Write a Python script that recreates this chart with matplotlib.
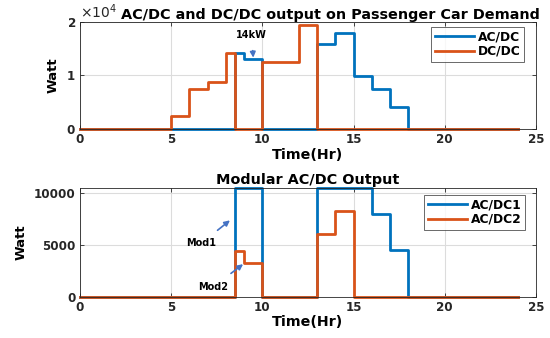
import matplotlib
matplotlib.use("Agg")
import matplotlib.pyplot as plt
import numpy as np
from matplotlib.ticker import ScalarFormatter

plt.rcParams['font.family'] = ['DejaVu Sans']
plt.rcParams['font.weight'] = 'bold'
plt.rcParams['mathtext.default'] = 'regular'

BLUE = '#0072BD'
ORANGE = '#D95319'

# Top chart: breakpoints (hours) and step values (W)
t_top = [0, 5, 6, 7, 8, 8.5, 9, 10, 11, 12, 13, 14, 15, 16, 17, 18, 24]
acdc = [0, 0, 0, 0, 0, 14200, 13100, 0, 0, 0, 15900, 17900, 9900, 7500, 4100, 0, 0]
dcdc = [0, 2500, 7500, 8800, 14200, 0, 0, 12500, 12400, 19300, 0, 0, 0, 0, 0, 0, 0]

# Bottom chart
t_bot = [0, 8.5, 9, 10, 13, 14, 15, 16, 17, 18, 24]
acdc1 = [0, 10500, 10500, 0, 10500, 10500, 10500, 7950, 4490, 0, 0]
acdc2 = [0, 4420, 3270, 0, 6100, 8270, 0, 0, 0, 0, 0]

xticks = [0, 5, 10, 15, 20, 25]

fig = plt.figure(figsize=(5.5, 3.38), dpi=100)
ax1 = fig.add_axes([0.1455, 0.6183, 0.829, 0.3175])
ax2 = fig.add_axes([0.1455, 0.1222, 0.829, 0.3216])

def style(ax):
    ax.grid(True, color='#dcdcdc', linewidth=0.8)
    ax.set_axisbelow(True)
    ax.tick_params(direction='in', length=3, labelsize=8.6, width=0.6, colors='#262626', pad=3,
                   top=True, right=True)
    for s in ax.spines.values():
        s.set_color('#262626')
        s.set_linewidth(0.6)
    ax.set_xlim(0, 25)
    ax.set_xticks(xticks)
    for lab in ax.get_xticklabels() + ax.get_yticklabels():
        lab.set_fontweight('bold')
    ax.set_xlabel('Time(Hr)', fontsize=10.3, fontweight='bold', labelpad=1)
    ax.set_ylabel('Watt', fontsize=9.5, fontweight='bold', labelpad=5)

def legend(ax, anchor):
    leg = ax.legend(loc='upper right', bbox_to_anchor=anchor, fontsize=8.8, frameon=True,
                    fancybox=False, edgecolor='#262626', handlelength=3.2, borderaxespad=0,
                    labelspacing=0.1, handletextpad=0.3, borderpad=0.3)
    leg.get_frame().set_linewidth(0.6)
    for tx in leg.get_texts():
        tx.set_fontweight('bold')

ax1.plot(t_top, acdc, drawstyle='steps-post', color=BLUE, lw=2, label='AC/DC', clip_on=False)
ax1.plot(t_top, dcdc, drawstyle='steps-post', color=ORANGE, lw=2, label='DC/DC', clip_on=False)
ax1.set_ylim(0, 20000)
ax1.set_yticks([0, 10000, 20000])
fmt = ScalarFormatter(useMathText=True)
fmt.set_powerlimits((4, 4))
ax1.yaxis.set_major_formatter(fmt)
style(ax1)
ax1.yaxis.get_offset_text().set_fontsize(10)
ax1.yaxis.get_offset_text().set_fontweight('normal')
ax1.text(0.55, 1.0, 'AC/DC and DC/DC output on Passenger Car Demand', transform=ax1.transAxes,
         ha='center', va='bottom', fontsize=10.4, fontweight='bold')
legend(ax1, (0.974, 0.951))
ax1.annotate('14kW', xy=(9.5, 13300), xytext=(9.4, 17600), ha='center', va='center',
             fontsize=7, fontweight='bold',
             arrowprops=dict(arrowstyle='-|>', color='#4472C4', lw=1.2, mutation_scale=8,
                             shrinkA=6, shrinkB=0))

ax2.plot(t_bot, acdc1, drawstyle='steps-post', color=BLUE, lw=2, label='AC/DC1', clip_on=False)
ax2.plot(t_bot, acdc2, drawstyle='steps-post', color=ORANGE, lw=2, label='AC/DC2', clip_on=False)
ax2.set_ylim(0, 10500)
ax2.set_yticks([0, 5000, 10000])
style(ax2)
ax2.set_title('Modular AC/DC Output', fontsize=10.4, fontweight='bold', pad=3)
legend(ax2, (0.976, 0.936))
ax2.annotate('Mod1', xy=(8.22, 7375), xytext=(6.65, 5160), ha='center', va='center',
             fontsize=7, fontweight='bold',
             arrowprops=dict(arrowstyle='-|>', color='#4472C4', lw=1.2, mutation_scale=8,
                             shrinkA=6, shrinkB=0))
ax2.annotate('Mod2', xy=(8.94, 3140), xytext=(7.29, 930), ha='center', va='center',
             fontsize=7, fontweight='bold',
             arrowprops=dict(arrowstyle='-|>', color='#4472C4', lw=1.2, mutation_scale=8,
                             shrinkA=7, shrinkB=0))

fig.savefig('out.png', dpi=100)
